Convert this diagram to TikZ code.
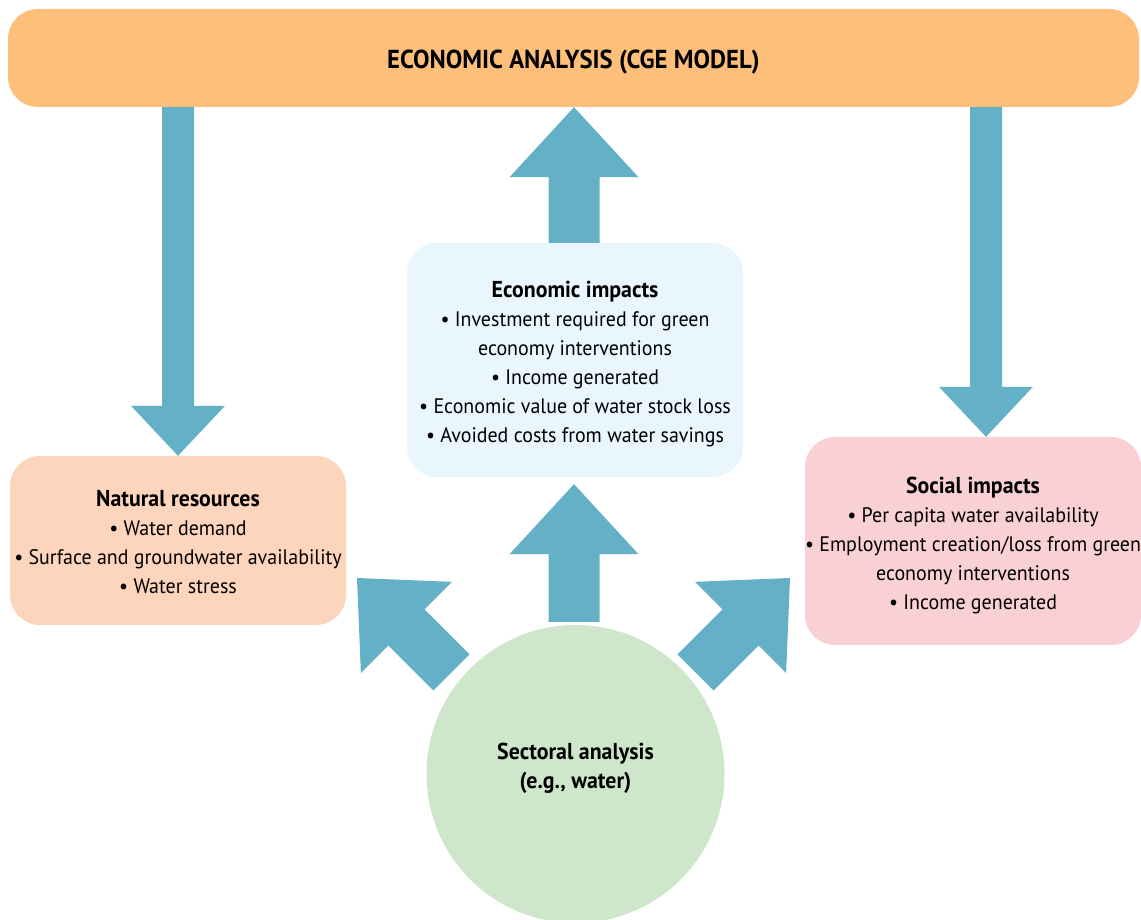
\documentclass[tikz,border=0pt]{standalone}
\usepackage{fontspec}
\setmainfont{PT Sans}[FakeStretch=0.95]
\usetikzlibrary{calc}
\definecolor{topc}{HTML}{FDBF7A}
\definecolor{arrowc}{HTML}{63B0C7}
\definecolor{econc}{HTML}{EAF6FD}
\definecolor{natc}{HTML}{FDD5BD}
\definecolor{socc}{HTML}{F9D0D3}
\definecolor{sectc}{HTML}{CEE7CB}
\newcommand\hd[1]{{\fontsize{23}{29}\selectfont\bfseries #1}}
\tikzset{
  blockarrow/.style n args={3}{to path={
    -- ($(\tikztostart)!#1!90:(\tikztotarget)$)
    -- ($(\tikztotarget)!#3!(\tikztostart)!#1!-90:(\tikztostart)$)
    -- ($(\tikztotarget)!#3!(\tikztostart)!#2!-90:(\tikztostart)$)
    -- (\tikztotarget)
    -- ($(\tikztotarget)!#3!(\tikztostart)!#2!90:(\tikztostart)$)
    -- ($(\tikztotarget)!#3!(\tikztostart)!#1!90:(\tikztostart)$)
    -- ($(\tikztostart)!#1!-90:(\tikztotarget)$)
    -- cycle}},
  fatarrow/.style={fill=arrowc, blockarrow={25.5pt}{64.5pt}{70pt}},
  thinarrow/.style={fill=arrowc, blockarrow={16pt}{47pt}{50pt}},
  box/.style={rounded corners=30pt, inner sep=0pt},
  txt/.style={align=center, font=\fontsize{21}{29}\selectfont, text=black}
}
\begin{document}
\begin{tikzpicture}[x=1pt,y=1pt]
\useasboundingbox (0,0) rectangle (1141,920);
\node[box, fill=topc, minimum width=1131pt, minimum height=98pt,
  label={[txt, yshift=-4pt, font=\fontsize{26}{29}\selectfont\bfseries]center:{ECONOMIC ANALYSIS (CGE MODEL)}}]
  (top) at (573.5,862) {};
\node[box, fill=econc, minimum width=336pt, minimum height=234pt,
  label={[txt, yshift=-4pt]center:{\hd{Economic impacts}\\
   • Investment required for green\\
   economy interventions\\
   • Income generated\\
   • Economic value of water stock loss\\
   • Avoided costs from water savings}}]
  (econ) at (575,560) {};
\node[box, fill=natc, minimum width=336pt, minimum height=169pt,
  label={[txt, yshift=-2pt]center:{\hd{Natural resources}\\
   • Water demand\\
   • Surface and groundwater availability\\
   • Water stress}}]
  (nat) at (178,379.5) {};
\node[box, fill=socc, minimum width=336pt, minimum height=208pt,
  label={[txt, yshift=-4.5pt]center:{\hd{Social impacts}\\
   • Per capita water availability\\
   • Employment creation/loss from green\\
   economy interventions\\
   • Income generated}}]
  (soc) at (973,379) {};
\node[circle, fill=sectc, minimum size=298pt, inner sep=0pt,
  label={[txt, yshift=6pt, font=\fontsize{23}{29}\selectfont\bfseries]center:{Sectoral analysis\\(e.g., water)}}]
  (sect) at (575.5,146) {};
% connector end points
\coordinate (rdx) at (986,0);
\coordinate (c1) at ($(sect.north)+(-1.5,3)$);
\coordinate (c2) at ($(econ.south)+(-1,-7)$);
\coordinate (l1) at (451.5,247.5);
\coordinate (l2) at (357,342);
\coordinate (r1) at (695.5,247.5);
\coordinate (r2) at (790,342);
% block arrows
\fill[thinarrow] (top.south -| nat.north) to (nat.north);
\fill[thinarrow] (top.south -| rdx) to (soc.north -| rdx);
\fill[fatarrow] ($(econ.north)+(-1,0)$) to ($(top.south -| econ.north)+(-1,0)$);
\fill[fatarrow] (c1) to (c2);
\fill[fatarrow] (l1) to (l2);
\fill[fatarrow] (r1) to (r2);
\end{tikzpicture}
\end{document}
